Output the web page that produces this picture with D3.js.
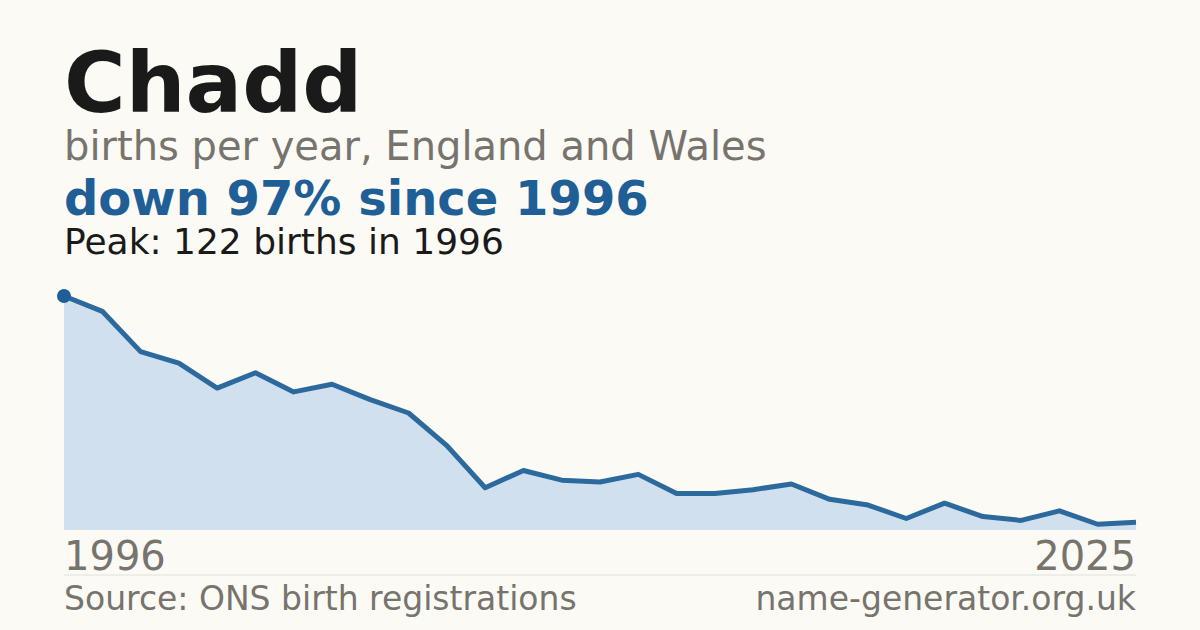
<!DOCTYPE html>
<html><head><meta charset="utf-8">
<script src="https://cdn.jsdelivr.net/npm/d3@7"></script>
<style>body{margin:0;background:#fbfaf5}</style></head>
<body><svg id="c" width="1200" height="630"></svg>
<script>
const years = [1996,1997,1998,1999,2000,2001,2002,2003,2004,2005,2006,2007,2008,2009,2010,2011,2012,2013,2014,2015,2016,2017,2018,2019,2020,2021,2022,2023,2025];
const births = [122,114,93,87,74,82,72,76,68,61,44,22,31,26,25,29,19,19,21,24,16,13,6,14,7,5,10,3,4];
const title = "Chadd", subtitle = "births per year, England and Wales",
  headline = "down 97% since 1996", peakText = "Peak: 122 births in 1996",
  source = "Source: ONS birth registrations", site = "name-generator.org.uk";
const svg = d3.select("#c");
svg.append("rect").attr("width",1200).attr("height",630).attr("fill","#fbfaf5");
const F = "DejaVu Sans, sans-serif";
const x = d3.scalePoint().domain(years).range([64,1136]);
const y = d3.scaleLinear().domain([0,122]).range([530,296]);
const t=(s,xx,yy,size,col,w,anchor)=>svg.append("text").text(s).attr("x",xx).attr("y",yy)
  .attr("font-family",F).attr("font-size",size).attr("fill",col).attr("font-weight",w||"normal").attr("text-anchor",anchor||"start");
t(title,64,112,84,"#1a1a1a","bold");
t(subtitle,64,160,40,"#77736d");
t(headline,64,215,48,"#1f5f96","bold");
t(peakText,64,254,36,"#1a1a1a");
const data = years.map((yr,i)=>({yr,v:births[i]}));
svg.append("path").datum(data).attr("fill","#d0e0ef")
  .attr("d",d3.area().x(d=>x(d.yr)).y0(y(0)).y1(d=>y(d.v)));
svg.append("path").datum(data).attr("fill","none").attr("stroke","#2c6a9e").attr("stroke-width",5)
  .attr("stroke-linejoin","round").attr("d",d3.line().x(d=>x(d.yr)).y(d=>y(d.v)));
svg.append("circle").attr("cx",x(1996)).attr("cy",y(122)).attr("r",7).attr("fill","#1f5f96");
t("1996",64,570,40,"#77736d");
t("2025",1136,570,40,"#77736d","normal","end");
svg.append("line").attr("x1",64).attr("x2",1136).attr("y1",575).attr("y2",575).attr("stroke","#e2e0da");
t(source,64,610,33,"#77736d");
t(site,1136,610,33,"#77736d","normal","end");
</script></body></html>
